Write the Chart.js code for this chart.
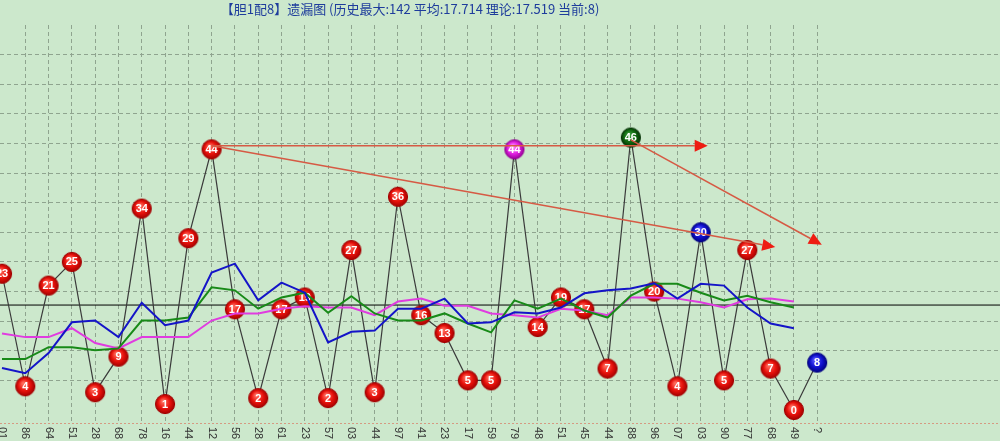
<!DOCTYPE html>
<html>
<head>
<meta charset="utf-8">
<script src="https://cdn.jsdelivr.net/npm/chart.js@4/dist/chart.umd.min.js"></script>
<style>
  html, body { margin: 0; padding: 0; background: #cce8cc; overflow: hidden; }
</style>
</head>
<body>
<canvas id="chart" width="1000" height="441"></canvas>
<script>
const titleText = '【胆1配8】遗漏图 (历史最大:142 平均:17.714 理论:17.519 当前:8)';

// period labels (bottom, only first digits visible)
const periods = ['01','86','64','51','28','68','78','16','44','12','56','28','61','23','57','03','44','97',
  '41','23','17','59','79','48','51','45','44','88','96','07','03','90','77','68','49','?'];

// missing counts per period
const misses = [23,4,21,25,3,9,34,1,29,44,17,2,17,19,2,27,3,36,16,13,5,5,44,14,19,17,7,46,20,4,30,5,27,7,0,8];

// moving averages
const maBlue = [7.1,6.2,9.6,14.8,15.1,12.3,18.1,14.3,15.1,23.2,24.7,18.5,21.5,19.8,11.4,13.2,13.4,17.1,17.1,
  18.8,14.6,14.8,16.5,16.3,17.3,19.7,20.2,20.5,21.4,18.8,21.3,21.0,17.3,14.6,13.8];
const maGreen = [8.6,8.6,10.6,10.6,10.1,10.4,15.1,15.1,15.6,20.7,20.2,17.1,19.0,19.8,16.4,19.2,16.3,15.1,15.1,
  16.3,14.6,13.1,18.5,17.1,18.8,16.8,15.6,19.3,21.3,21.3,19.8,18.5,19.3,18.2,17.3];
const maPink = [12.9,12.3,12.3,13.8,11.3,10.4,12.3,12.3,12.3,15.1,16.3,16.3,17.1,17.5,17.3,17.3,16.0,18.3,18.8,
  17.6,17.6,16.3,16.0,15.6,17.1,16.8,16.0,19.0,19.0,18.8,18.2,17.3,18.7,18.8,18.3];

const average = 17.714;

// trend arrows: [fromIndex, fromValue, toIndex, toValue]
const arrows = [
  [9, 44.6, 30.3, 44.6],
  [9, 44.6, 33.2, 27.5],
  [27, 45.6, 35.2, 27.9],
];

// marker colour kind per period (default red)
const highlight = { 22: 'pink', 27: 'green', 30: 'blue', 35: 'blue' };

function ball(c1, c2, c3) {
  const cv = document.createElement('canvas');
  cv.width = cv.height = 22;
  const g = cv.getContext('2d');
  const grd = g.createRadialGradient(9, 8, 1, 11, 11, 10);
  grd.addColorStop(0, c1);
  grd.addColorStop(0.55, c2);
  grd.addColorStop(1, c3);
  g.beginPath();
  g.arc(11, 11, 9.6, 0, Math.PI * 2);
  g.fillStyle = grd;
  g.fill();
  g.lineWidth = 1;
  g.strokeStyle = c3;
  g.stroke();
  return cv;
}
const balls = {
  red: ball('#ff6d5e', '#e8120c', '#a10000'),
  pink: ball('#ff8cff', '#e222e2', '#930093'),
  green: ball('#3c9c3c', '#0f6a0f', '#043004'),
  blue: ball('#5a5aff', '#1212d2', '#000080'),
};

const bgPlugin = {
  id: 'bg',
  beforeDraw(chart) {
    const c = chart.ctx;
    c.save();
    c.fillStyle = '#cce8cc';
    c.fillRect(0, 0, chart.width, chart.height);
    c.restore();
  }
};

const labelPlugin = {
  id: 'ballLabels',
  afterDatasetDraw(chart, args) {
    if (args.index !== 0) return;
    const c = chart.ctx;
    c.save();
    c.fillStyle = '#fff';
    c.font = 'bold 11px "Liberation Sans", Arial, sans-serif';
    c.textAlign = 'center';
    c.textBaseline = 'middle';
    args.meta.data.forEach((pt, i) => c.fillText(String(misses[i]), pt.x, pt.y + 0.5));
    c.restore();
  }
};

const decoPlugin = {
  id: 'deco',
  afterDatasetsDraw(chart) {
    const c = chart.ctx, xs = chart.scales.x, ys = chart.scales.y, area = chart.chartArea;
    c.save();
    // arrows
    arrows.forEach(([i0, v0, i1, v1]) => {
      const x0 = xs.getPixelForValue(i0), y0 = ys.getPixelForValue(v0);
      const x1 = xs.getPixelForValue(i1), y1 = ys.getPixelForValue(v1);
      const ang = Math.atan2(y1 - y0, x1 - x0);
      const len = 13, half = 6;
      const bx = x1 - len * Math.cos(ang), by = y1 - len * Math.sin(ang);
      c.strokeStyle = '#d65a44';
      c.lineWidth = 1.5;
      c.beginPath();
      c.moveTo(x0, y0);
      c.lineTo(bx, by);
      c.stroke();
      c.fillStyle = '#ee1c12';
      c.beginPath();
      c.moveTo(x1, y1);
      c.lineTo(bx + half * Math.sin(ang), by - half * Math.cos(ang));
      c.lineTo(bx - half * Math.sin(ang), by + half * Math.cos(ang));
      c.closePath();
      c.fill();
    });
    // bottom dotted axis line
    c.strokeStyle = '#d59a82';
    c.lineWidth = 1;
    c.setLineDash([2, 2]);
    c.beginPath();
    c.moveTo(0, area.bottom + 0.5);
    c.lineTo(chart.width, area.bottom + 0.5);
    c.stroke();
    c.setLineDash([]);
    // period labels, rotated clockwise
    c.fillStyle = '#333';
    c.font = '11px "Liberation Sans", Arial, sans-serif';
    c.textAlign = 'left';
    c.textBaseline = 'middle';
    periods.forEach((p, i) => {
      c.save();
      c.translate(xs.getPixelForValue(i), area.bottom + 4);
      c.rotate(Math.PI / 2);
      c.fillText(p, 0, 0);
      c.restore();
    });
    // title
    c.fillStyle = '#1e3c9c';
    c.font = '13px "Noto Sans CJK SC", sans-serif';
    c.textAlign = 'center';
    c.textBaseline = 'middle';
    c.fillText(titleText, 410, 9);
    c.restore();
  }
};

const gridColor = '#8fa48f';
const lastIndex = periods.length - 1;

new Chart(document.getElementById('chart'), {
  type: 'line',
  data: {
    datasets: [
      {
        data: misses.map((v, i) => ({ x: i, y: v })),
        borderColor: '#3a3a3a',
        borderWidth: 1.2,
        pointStyle: misses.map((v, i) => balls[highlight[i] || 'red']),
        pointRadius: 10,
        tension: 0,
        order: 4,
      },
      {
        data: maBlue.map((v, i) => ({ x: i, y: v })),
        borderColor: '#1414c8',
        borderWidth: 2,
        pointRadius: 0,
        order: 1,
      },
      {
        data: maGreen.map((v, i) => ({ x: i, y: v })),
        borderColor: '#188a18',
        borderWidth: 2,
        pointRadius: 0,
        order: 2,
      },
      {
        data: maPink.map((v, i) => ({ x: i, y: v })),
        borderColor: '#e03ce0',
        borderWidth: 2,
        pointRadius: 0,
        order: 3,
      },
      {
        data: [{ x: -1, y: average }, { x: 44, y: average }],
        borderColor: '#000',
        borderWidth: 1,
        pointRadius: 0,
        order: 6,
      },
    ],
  },
  options: {
    responsive: false,
    animation: false,
    layout: { autoPadding: false, padding: { top: 25, bottom: 18, left: 0, right: 0 } },
    plugins: { legend: { display: false }, tooltip: { enabled: false }, title: { display: false } },
    scales: {
      x: {
        type: 'linear',
        min: -0.086,
        max: 42.85,
        ticks: { display: false, stepSize: 1 },
        grid: {
          drawTicks: false,
          color: (ctx) => {
            const v = ctx.tick ? ctx.tick.value : -1;
            return (Number.isInteger(v) && v >= 0 && v <= lastIndex) ? gridColor : 'rgba(0,0,0,0)';
          },
        },
        border: { display: false, dash: [4, 3] },
      },
      y: {
        min: -2.2,
        max: 65,
        ticks: { display: false, stepSize: 5 },
        grid: {
          drawTicks: false,
          color: (ctx) => {
            const v = ctx.tick ? ctx.tick.value : -1;
            return (v >= 0 && v <= 60 && Math.abs(v % 5) < 1e-6) ? gridColor : 'rgba(0,0,0,0)';
          },
        },
        border: { display: false, dash: [4, 3] },
      },
    },
  },
  plugins: [bgPlugin, labelPlugin, decoPlugin],
});
</script>
</body>
</html>
